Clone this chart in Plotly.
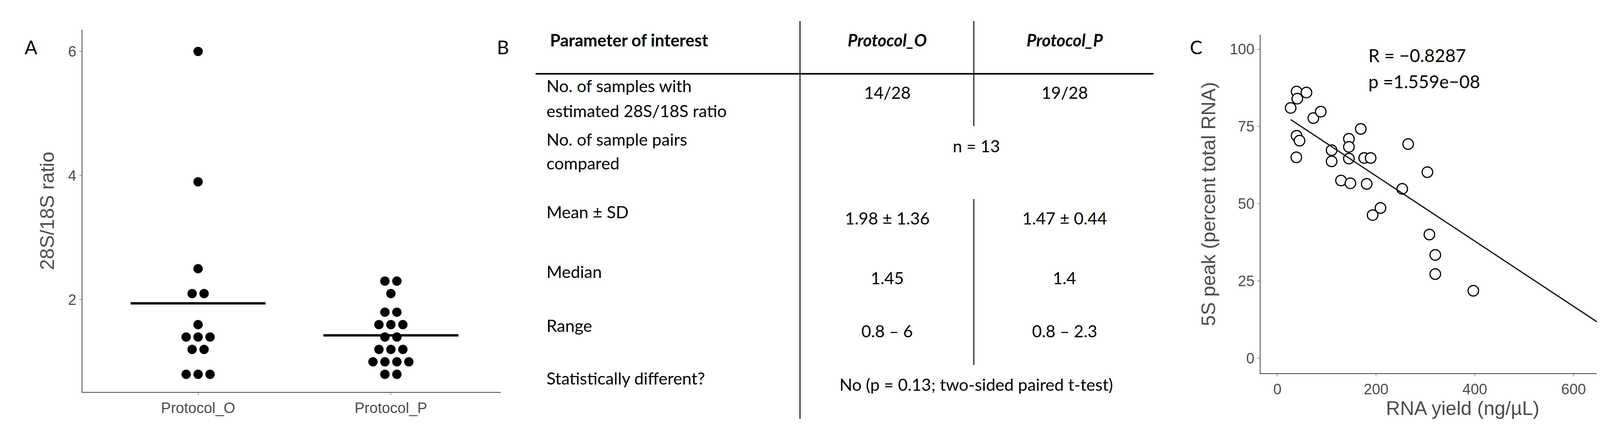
import numpy as np
import plotly.graph_objects as go

W, H = 4292, 1104
def px(x): return x / W
def py(y): return 1 - y / H

# Panel A data
categories = ["Protocol_O", "Protocol_P"]
ratio_O = [6.0, 3.9, 2.5, 2.1, 2.1, 1.6, 1.4, 1.4, 1.4, 1.2, 1.2, 0.8, 0.8, 0.8]
ratio_P = [2.3, 2.3, 2.1, 1.8, 1.8, 1.6, 1.6, 1.6, 1.4, 1.4, 1.2, 1.2, 1.2,
           1.0, 1.0, 1.0, 1.0, 0.8, 0.8]
a_yticks = [2, 4, 6]

# Panel C data
rna_yield = [27, 39, 40.5, 59, 73, 88, 39, 45, 38.5, 110, 110, 145, 145, 145, 129,
             148, 169, 176, 189, 181, 193, 209, 253, 265, 304, 308, 320, 320, 397, 700]
peak_5s = [81, 86.3, 84, 86, 77.7, 79.8, 72, 70.4, 65, 67.3, 63.7, 71, 68.4, 64.6, 57.5,
           56.6, 74.2, 64.8, 64.8, 56.4, 46.3, 48.6, 54.8, 69.3, 60.2, 40, 33.4, 27.2, 21.8, 23.4]
c_xticks = [0, 200, 400, 600]
c_yticks = [0, 25, 50, 75, 100]

# Panel B table text
row_labels = [["No. of samples with", "estimated 28S/18S ratio"],
              ["No. of sample pairs", "compared"],
              ["Mean ± SD"], ["Median"], ["Range"], ["Statistically different?"]]
col_O = ["14/28", None, "1.98 ± 1.36", "1.45", "0.8 – 6", None]
col_P = ["19/28", None, "1.47 ± 0.44", "1.4", "0.8 – 2.3", None]
merged = {1: "n = 13", 5: "No (p = 0.13; two-sided paired t-test)"}

fig = go.Figure()

# Panel A dot strip
for ci, vals in enumerate([ratio_O, ratio_P]):
    xs, ys = [], []
    for v in sorted(set(vals)):
        n = vals.count(v)
        for i in range(n):
            xs.append(ci + (i - (n - 1) / 2) * 0.062)
            ys.append(v)
    fig.add_trace(go.Scatter(x=xs, y=ys, mode="markers", xaxis="x", yaxis="y",
                             marker=dict(size=24, color="black"), showlegend=False))
    m = float(np.mean(vals))
    fig.add_trace(go.Scatter(x=[ci - 0.35, ci + 0.35], y=[m, m], mode="lines",
                             xaxis="x", yaxis="y", line=dict(color="black", width=6),
                             showlegend=False))

# Panel C scatter + fit
fig.add_trace(go.Scatter(x=rna_yield, y=peak_5s, mode="markers", xaxis="x2", yaxis="y2",
                         marker=dict(size=27, color="white", line=dict(color="black", width=3)),
                         showlegend=False))
k, b = np.polyfit(rna_yield, peak_5s, 1)
xl = np.array([min(rna_yield), max(rna_yield)])
fig.add_trace(go.Scatter(x=xl, y=k * xl + b, mode="lines", xaxis="x2", yaxis="y2",
                         line=dict(color="black", width=3), showlegend=False))

tickfont = dict(family="Liberation Sans, Arial", size=38, color="#4d4d4d")
titlefont = dict(family="Liberation Sans, Arial", size=50, color="#4d4d4d")
axcommon = dict(showgrid=False, zeroline=False, showline=True, linecolor="#444",
                linewidth=2, ticks="outside", ticklen=6, tickcolor="#444", tickfont=tickfont,
                automargin=False)

fig.update_layout(
    width=W, height=H, margin=dict(l=0, r=0, t=0, b=0, autoexpand=False),
    paper_bgcolor="white", plot_bgcolor="white",
    xaxis=dict(domain=[px(203), px(1274)], range=[-0.6, 1.57], tickvals=[0, 1],
               ticktext=categories, anchor="y", **axcommon),
    yaxis=dict(domain=[py(996), py(68)], range=[0.515, 6.35], tickvals=a_yticks,
               title=dict(text="28S/18S ratio", font=titlefont, standoff=20),
               anchor="x", **axcommon),
    xaxis2=dict(domain=[px(3219), px(4254)], range=[-34, 785], tickvals=c_xticks,
                title=dict(text="RNA yield (ng/µL)", font=titlefont, standoff=8),
                anchor="y2", **axcommon),
    yaxis2=dict(domain=[py(948), py(81)], range=[-4.9, 104.7], tickvals=c_yticks,
                title=dict(text="5S peak (percent total RNA)", font=titlefont, standoff=20),
                anchor="x2", **axcommon),
)

tfont = dict(family="Lato", size=43, color="black")
ann = []
def A(x, y, text, xa="center", **kw):
    f = dict(tfont); f.update(kw.pop("font", {}))
    ann.append(dict(x=px(x), y=py(y), xref="paper", yref="paper", text=text,
                    showarrow=False, xanchor=xa, yanchor="middle", font=f, **kw))

# panel letters
A(71, 113, "A", font=dict(size=48))
A(1279, 113, "B", font=dict(size=48))
A(3054, 113, "C", font=dict(size=48))

# table header
A(1398, 94, "<b>Parameter of interest</b>", xa="left")
A(2263, 94, "<b><i>Protocol_O</i></b>")
A(2717, 94, "<b><i>Protocol_P</i></b>")

label_y = [[211, 275], [348, 409], [534], [687], [825], [960]]
val_y = [229, 365, 550, 703, 839, 976]
for i, lines in enumerate(row_labels):
    for t, yy in zip(lines, label_y[i]):
        A(1389, yy, t, xa="left")
    if i in merged:
        A(2491, val_y[i], merged[i])
    else:
        A(2263, val_y[i], col_O[i])
        A(2717, val_y[i], col_P[i])

A(3493, 134, "R = −0.8287", xa="left", font=dict(size=46))
A(3493, 201, "p =1.559e−08", xa="left", font=dict(size=46))
fig.update_layout(annotations=ann)

shapes = [
    dict(type="line", xref="paper", yref="paper", x0=px(1363), x1=px(2945), y0=py(181), y1=py(181),
         line=dict(color="black", width=4)),
    dict(type="line", xref="paper", yref="paper", x0=px(2040), x1=px(2040), y0=py(46), y1=py(1065),
         line=dict(color="black", width=2.5)),
    dict(type="line", xref="paper", yref="paper", x0=px(2485), x1=px(2485), y0=py(46), y1=py(315),
         line=dict(color="black", width=2.5)),
    dict(type="line", xref="paper", yref="paper", x0=px(2485), x1=px(2485), y0=py(502), y1=py(927),
         line=dict(color="black", width=2.5)),
]
fig.update_layout(shapes=shapes)

fig.write_html("out.html")
